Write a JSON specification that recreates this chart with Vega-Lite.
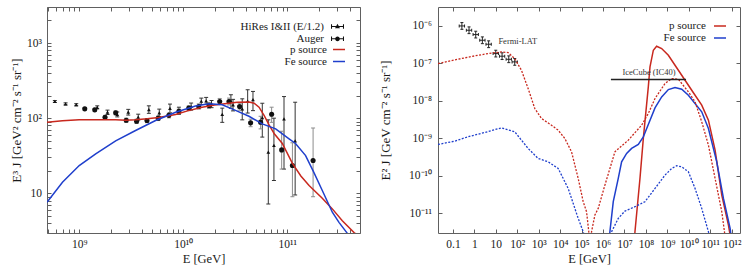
{
  "$schema": "https://vega.github.io/schema/vega-lite/v6.json",
  "padding": {"left": 10, "top": 0, "right": 8, "bottom": 7},
  "background": "white",
  "bounds": "flush",
  "spacing": 78,
  "resolve": {"scale": {"color": "independent", "shape": "independent", "size": "independent"}},
  "datasets": {
    "leftObs": [
      {"series": "HiRes I&II (E/1.2)", "E": 5.83e8, "J": 167, "lo": 162, "hi": 172},
      {"series": "HiRes I&II (E/1.2)", "E": 7.39e8, "J": 155, "lo": 150, "hi": 160},
      {"series": "HiRes I&II (E/1.2)", "E": 9.36e8, "J": 151, "lo": 146, "hi": 156},
      {"series": "HiRes I&II (E/1.2)", "E": 1.49e9, "J": 139, "lo": 133, "hi": 146},
      {"series": "HiRes I&II (E/1.2)", "E": 1.87e9, "J": 120, "lo": 112, "hi": 128},
      {"series": "HiRes I&II (E/1.2)", "E": 2.32e9, "J": 112, "lo": 104, "hi": 121},
      {"series": "HiRes I&II (E/1.2)", "E": 2.96e9, "J": 120, "lo": 110, "hi": 131},
      {"series": "HiRes I&II (E/1.2)", "E": 3.69e9, "J": 103, "lo": 94, "hi": 113},
      {"series": "HiRes I&II (E/1.2)", "E": 4.67e9, "J": 130, "lo": 116, "hi": 146},
      {"series": "HiRes I&II (E/1.2)", "E": 5.88e9, "J": 118, "lo": 105, "hi": 132},
      {"series": "HiRes I&II (E/1.2)", "E": 7.45e9, "J": 135, "lo": 118, "hi": 154},
      {"series": "HiRes I&II (E/1.2)", "E": 9.08e9, "J": 125, "lo": 112, "hi": 140},
      {"series": "HiRes I&II (E/1.2)", "E": 1.19e10, "J": 143, "lo": 128, "hi": 159},
      {"series": "HiRes I&II (E/1.2)", "E": 1.49e10, "J": 168, "lo": 152, "hi": 185},
      {"series": "HiRes I&II (E/1.2)", "E": 1.66e10, "J": 170, "lo": 153, "hi": 189},
      {"series": "HiRes I&II (E/1.2)", "E": 1.87e10, "J": 155, "lo": 138, "hi": 172},
      {"series": "HiRes I&II (E/1.2)", "E": 2.37e10, "J": 112, "lo": 88, "hi": 136},
      {"series": "HiRes I&II (E/1.2)", "E": 2.87e10, "J": 170, "lo": 135, "hi": 205},
      {"series": "HiRes I&II (E/1.2)", "E": 3.01e10, "J": 150, "lo": 125, "hi": 178},
      {"series": "HiRes I&II (E/1.2)", "E": 3.69e10, "J": 133, "lo": 95, "hi": 181},
      {"series": "HiRes I&II (E/1.2)", "E": 4.16e10, "J": 169, "lo": 117, "hi": 239},
      {"series": "HiRes I&II (E/1.2)", "E": 4.68e10, "J": 176, "lo": 126, "hi": 227},
      {"series": "HiRes I&II (E/1.2)", "E": 5.75e10, "J": 102, "lo": 56, "hi": 158},
      {"series": "HiRes I&II (E/1.2)", "E": 6.57e10, "J": 35.2, "lo": 7.2, "hi": 95},
      {"series": "HiRes I&II (E/1.2)", "E": 7.44e10, "J": 43.3, "lo": 14.8, "hi": 100},
      {"series": "HiRes I&II (E/1.2)", "E": 9.3e10, "J": 98, "lo": 21, "hi": 194},
      {"series": "HiRes I&II (E/1.2)", "E": 1.19e11, "J": 49.9, "lo": 9.5, "hi": 163},
      {"series": "Auger", "E": 1.13e9, "J": 133, "lo": 127, "hi": 139},
      {"series": "Auger", "E": 1.41e9, "J": 129, "lo": 123, "hi": 135},
      {"series": "Auger", "E": 1.77e9, "J": 103, "lo": 97, "hi": 109},
      {"series": "Auger", "E": 2.24e9, "J": 118, "lo": 111, "hi": 125},
      {"series": "Auger", "E": 2.83e9, "J": 94, "lo": 88, "hi": 100},
      {"series": "Auger", "E": 3.56e9, "J": 91, "lo": 85, "hi": 97},
      {"series": "Auger", "E": 4.48e9, "J": 93, "lo": 87, "hi": 99},
      {"series": "Auger", "E": 5.75e9, "J": 100, "lo": 93, "hi": 107},
      {"series": "Auger", "E": 7.28e9, "J": 109, "lo": 101, "hi": 117},
      {"series": "Auger", "E": 9.08e9, "J": 123, "lo": 114, "hi": 132},
      {"series": "Auger", "E": 1.13e10, "J": 136, "lo": 126, "hi": 146},
      {"series": "Auger", "E": 1.41e10, "J": 143, "lo": 132, "hi": 155},
      {"series": "Auger", "E": 1.77e10, "J": 148, "lo": 135, "hi": 162},
      {"series": "Auger", "E": 2.24e10, "J": 167, "lo": 152, "hi": 183},
      {"series": "Auger", "E": 2.75e10, "J": 167, "lo": 150, "hi": 185},
      {"series": "Auger", "E": 3.48e10, "J": 143, "lo": 128, "hi": 158},
      {"series": "Auger", "E": 4.44e10, "J": 86.7, "lo": 77, "hi": 97},
      {"series": "Auger", "E": 5.54e10, "J": 88.5, "lo": 72, "hi": 106},
      {"series": "Auger", "E": 7.07e10, "J": 113, "lo": 88, "hi": 140},
      {"series": "Auger", "E": 8.83e10, "J": 37.8, "lo": 21, "hi": 67},
      {"series": "Auger", "E": 1.12e11, "J": 23.4, "lo": 9, "hi": 47},
      {"series": "Auger", "E": 1.77e11, "J": 27.3, "lo": 9, "hi": 74}
    ],
    "leftModel": [
      {"series": "p source", "E": 4.9e8, "J": 88},
      {"series": "p source", "E": 6.9e8, "J": 92.5},
      {"series": "p source", "E": 1.0e9, "J": 95},
      {"series": "p source", "E": 1.44e9, "J": 95.5},
      {"series": "p source", "E": 2.24e9, "J": 95},
      {"series": "p source", "E": 2.8e9, "J": 94},
      {"series": "p source", "E": 3.48e9, "J": 95},
      {"series": "p source", "E": 4.5e9, "J": 98},
      {"series": "p source", "E": 5.8e9, "J": 102},
      {"series": "p source", "E": 8.44e9, "J": 112},
      {"series": "p source", "E": 1.1e10, "J": 125},
      {"series": "p source", "E": 1.52e10, "J": 140},
      {"series": "p source", "E": 2.0e10, "J": 150},
      {"series": "p source", "E": 2.75e10, "J": 158},
      {"series": "p source", "E": 3.3e10, "J": 163},
      {"series": "p source", "E": 4.3e10, "J": 164},
      {"series": "p source", "E": 4.8e10, "J": 158},
      {"series": "p source", "E": 5.35e10, "J": 140},
      {"series": "p source", "E": 6.0e10, "J": 108},
      {"series": "p source", "E": 6.66e10, "J": 82},
      {"series": "p source", "E": 7.5e10, "J": 62},
      {"series": "p source", "E": 8.96e10, "J": 46},
      {"series": "p source", "E": 1.12e11, "J": 25},
      {"series": "p source", "E": 1.35e11, "J": 17},
      {"series": "p source", "E": 1.62e11, "J": 12.7},
      {"series": "p source", "E": 2.17e11, "J": 8.6},
      {"series": "p source", "E": 2.71e11, "J": 6.2},
      {"series": "p source", "E": 3.38e11, "J": 4.3},
      {"series": "p source", "E": 4.38e11, "J": 3.0},
      {"series": "p source", "E": 5.2e11, "J": 2.5},
      {"series": "Fe source", "E": 4.9e8, "J": 7.6},
      {"series": "Fe source", "E": 6.9e8, "J": 14},
      {"series": "Fe source", "E": 1.0e9, "J": 23.4},
      {"series": "Fe source", "E": 1.44e9, "J": 33.4},
      {"series": "Fe source", "E": 2.24e9, "J": 50},
      {"series": "Fe source", "E": 3.48e9, "J": 68.5},
      {"series": "Fe source", "E": 5.42e9, "J": 93},
      {"series": "Fe source", "E": 8.44e9, "J": 120},
      {"series": "Fe source", "E": 1.31e10, "J": 145},
      {"series": "Fe source", "E": 1.77e10, "J": 155},
      {"series": "Fe source", "E": 2.37e10, "J": 151},
      {"series": "Fe source", "E": 3.18e10, "J": 127},
      {"series": "Fe source", "E": 4.28e10, "J": 106},
      {"series": "Fe source", "E": 5.75e10, "J": 84},
      {"series": "Fe source", "E": 7.73e10, "J": 72},
      {"series": "Fe source", "E": 1.04e11, "J": 53},
      {"series": "Fe source", "E": 1.2e11, "J": 46},
      {"series": "Fe source", "E": 1.5e11, "J": 31.8},
      {"series": "Fe source", "E": 1.8e11, "J": 19},
      {"series": "Fe source", "E": 2.17e11, "J": 10.9},
      {"series": "Fe source", "E": 2.71e11, "J": 5.6},
      {"series": "Fe source", "E": 3.14e11, "J": 4.1},
      {"series": "Fe source", "E": 3.78e11, "J": 2.93},
      {"series": "Fe source", "E": 4.2e11, "J": 2.4}
    ],
    "fermi": [
      {"E": 0.26, "J": 1.0e-6, "Elo": 0.195, "Ehi": 0.346, "Jlo": 8.13e-7, "Jhi": 1.23e-6},
      {"E": 0.56, "J": 7.67e-7, "Elo": 0.421, "Ehi": 0.745, "Jlo": 6.24e-7, "Jhi": 9.43e-7},
      {"E": 1.15, "J": 5.88e-7, "Elo": 0.865, "Ehi": 1.53, "Jlo": 4.78e-7, "Jhi": 7.23e-7},
      {"E": 2.35, "J": 4.15e-7, "Elo": 1.77, "Ehi": 3.13, "Jlo": 3.37e-7, "Jhi": 5.1e-7},
      {"E": 4.6, "J": 3.25e-7, "Elo": 3.46, "Ehi": 6.12, "Jlo": 2.64e-7, "Jhi": 4.0e-7},
      {"E": 9.9, "J": 1.83e-7, "Elo": 7.44, "Ehi": 13.2, "Jlo": 1.49e-7, "Jhi": 2.25e-7},
      {"E": 19.5, "J": 1.56e-7, "Elo": 14.7, "Ehi": 25.9, "Jlo": 1.27e-7, "Jhi": 1.92e-7},
      {"E": 40, "J": 1.29e-7, "Elo": 30.1, "Ehi": 53.2, "Jlo": 1.05e-7, "Jhi": 1.59e-7},
      {"E": 76, "J": 1.1e-7, "Elo": 57.1, "Ehi": 101, "Jlo": 8.94e-8, "Jhi": 1.35e-7}
    ],
    "gamma": [
      {"series": "p source", "seg": "pg", "E": 0.0199, "J": 9.91e-8},
      {"series": "p source", "seg": "pg", "E": 0.1714, "J": 1.294e-7},
      {"series": "p source", "seg": "pg", "E": 1.028, "J": 1.589e-7},
      {"series": "p source", "seg": "pg", "E": 4.325, "J": 1.832e-7},
      {"series": "p source", "seg": "pg", "E": 18.16, "J": 2.028e-7},
      {"series": "p source", "seg": "pg", "E": 37.15, "J": 1.95e-7},
      {"series": "p source", "seg": "pg", "E": 76.2, "J": 1.349e-7},
      {"series": "p source", "seg": "pg", "E": 156, "J": 6.59e-8},
      {"series": "p source", "seg": "pg", "E": 320, "J": 2.14e-8},
      {"series": "p source", "seg": "pg", "E": 655, "J": 6.28e-9},
      {"series": "p source", "seg": "pg", "E": 1343, "J": 3.4e-9},
      {"series": "p source", "seg": "pg", "E": 3936, "J": 2.25e-9},
      {"series": "p source", "seg": "pg", "E": 8072, "J": 1.66e-9},
      {"series": "p source", "seg": "pg", "E": 16520, "J": 9.95e-10},
      {"series": "p source", "seg": "pg", "E": 33880, "J": 4.4e-10},
      {"series": "p source", "seg": "pg", "E": 69340, "J": 8.55e-11},
      {"series": "p source", "seg": "pg", "E": 118900, "J": 2.05e-11},
      {"series": "p source", "seg": "pg", "E": 170200, "J": 1.107e-11},
      {"series": "p source", "seg": "pg", "E": 218800, "J": 3.05e-12},
      {"series": "p source", "seg": "pg", "E": 251200, "J": 1e-12},
      {"series": "p source", "seg": "pg", "E": 291100, "J": 3.25e-12},
      {"series": "p source", "seg": "pg", "E": 416900, "J": 9.04e-12},
      {"series": "p source", "seg": "pg", "E": 597000, "J": 1.36e-11},
      {"series": "p source", "seg": "pg", "E": 1.222e6, "J": 5.69e-11},
      {"series": "p source", "seg": "pg", "E": 3.589e6, "J": 4.4e-10},
      {"series": "p source", "seg": "pg", "E": 1.507e7, "J": 8.99e-10},
      {"series": "p source", "seg": "pg", "E": 6.32e7, "J": 2.25e-9},
      {"series": "p source", "seg": "pg", "E": 1.294e8, "J": 4.61e-9},
      {"series": "p source", "seg": "pg", "E": 2.655e8, "J": 1.159e-8},
      {"series": "p source", "seg": "pg", "E": 7.78e8, "J": 2.91e-8},
      {"series": "p source", "seg": "pg", "E": 1.592e9, "J": 3.95e-8},
      {"series": "p source", "seg": "pg", "E": 3.266e9, "J": 3.79e-8},
      {"series": "p source", "seg": "pg", "E": 9.57e9, "J": 1.746e-8},
      {"series": "p source", "seg": "pg", "E": 1.963e10, "J": 9.44e-9},
      {"series": "p source", "seg": "pg", "E": 4.018e10, "J": 2.77e-9},
      {"series": "p source", "seg": "pg", "E": 8.24e10, "J": 6.62e-10},
      {"series": "p source", "seg": "pg", "E": 1.687e11, "J": 8.57e-11},
      {"series": "p source", "seg": "pg", "E": 3.459e11, "J": 1.107e-11},
      {"series": "p source", "seg": "pg", "E": 4.61e11, "J": 3.25e-12},
      {"series": "p source", "seg": "pg", "E": 5.89e11, "J": 9.5e-13},
      {"series": "Fe source", "seg": "fg1", "E": 0.0199, "J": 6.89e-10},
      {"series": "Fe source", "seg": "fg1", "E": 0.1197, "J": 8.45e-10},
      {"series": "Fe source", "seg": "fg1", "E": 0.502, "J": 1.104e-9},
      {"series": "Fe source", "seg": "fg1", "E": 3.02, "J": 1.439e-9},
      {"series": "Fe source", "seg": "fg1", "E": 18.16, "J": 1.914e-9},
      {"series": "Fe source", "seg": "fg1", "E": 76.2, "J": 1.5e-9},
      {"series": "Fe source", "seg": "fg1", "E": 320, "J": 5.4e-10},
      {"series": "Fe source", "seg": "fg1", "E": 938, "J": 2.92e-10},
      {"series": "Fe source", "seg": "fg1", "E": 2748, "J": 2.38e-10},
      {"series": "Fe source", "seg": "fg1", "E": 8072, "J": 1.58e-10},
      {"series": "Fe source", "seg": "fg1", "E": 23660, "J": 4.63e-11},
      {"series": "Fe source", "seg": "fg1", "E": 69340, "J": 7.36e-12},
      {"series": "Fe source", "seg": "fg1", "E": 118900, "J": 3.25e-12},
      {"series": "Fe source", "seg": "fg1", "E": 170200, "J": 1.45e-12},
      {"series": "Fe source", "seg": "fg2", "E": 2.094e6, "J": 2.65e-12},
      {"series": "Fe source", "seg": "fg2", "E": 3.0e6, "J": 3.98e-12},
      {"series": "Fe source", "seg": "fg2", "E": 5.13e6, "J": 7.36e-12},
      {"series": "Fe source", "seg": "fg2", "E": 1.052e7, "J": 1.153e-11},
      {"series": "Fe source", "seg": "fg2", "E": 3.083e7, "J": 1.507e-11},
      {"series": "Fe source", "seg": "fg2", "E": 9.04e7, "J": 2.05e-11},
      {"series": "Fe source", "seg": "fg2", "E": 2.655e8, "J": 4.63e-11},
      {"series": "Fe source", "seg": "fg2", "E": 7.78e8, "J": 1.05e-10},
      {"series": "Fe source", "seg": "fg2", "E": 1.592e9, "J": 1.58e-10},
      {"series": "Fe source", "seg": "fg2", "E": 2.729e9, "J": 1.862e-10},
      {"series": "Fe source", "seg": "fg2", "E": 4.677e9, "J": 1.75e-10},
      {"series": "Fe source", "seg": "fg2", "E": 9.57e9, "J": 1.288e-10},
      {"series": "Fe source", "seg": "fg2", "E": 1.963e10, "J": 4.63e-11},
      {"series": "Fe source", "seg": "fg2", "E": 4.018e10, "J": 1.36e-11},
      {"series": "Fe source", "seg": "fg2", "E": 8.24e10, "J": 3.25e-12},
      {"series": "Fe source", "seg": "fg2", "E": 1.175e11, "J": 1.17e-12}
    ],
    "neutrino": [
      {"series": "p source", "E": 2.871e7, "J": 1.76e-12},
      {"series": "p source", "E": 3.083e7, "J": 3.25e-12},
      {"series": "p source", "E": 5.28e7, "J": 8.55e-11},
      {"series": "p source", "E": 7.57e7, "J": 9.95e-10},
      {"series": "p source", "E": 1.294e8, "J": 2.37e-8},
      {"series": "p source", "E": 1.55e8, "J": 8.09e-8},
      {"series": "p source", "E": 2.22e8, "J": 2.25e-7},
      {"series": "p source", "E": 3.16e8, "J": 2.87e-7},
      {"series": "p source", "E": 5.43e8, "J": 2.49e-7},
      {"series": "p source", "E": 1.114e9, "J": 1.65e-7},
      {"series": "p source", "E": 3.27e9, "J": 6.59e-8},
      {"series": "p source", "E": 1.371e10, "J": 1.93e-8},
      {"series": "p source", "E": 4.018e10, "J": 7.69e-9},
      {"series": "p source", "E": 8.24e10, "J": 3.07e-9},
      {"series": "p source", "E": 1.687e11, "J": 4.86e-10},
      {"series": "p source", "E": 3.459e11, "J": 3.08e-11},
      {"series": "p source", "E": 7.08e11, "J": 4.89e-12},
      {"series": "p source", "E": 9.55e11, "J": 1.76e-12},
      {"series": "Fe source", "E": 1.879e6, "J": 1.76e-12},
      {"series": "Fe source", "E": 2.094e6, "J": 3.25e-12},
      {"series": "Fe source", "E": 3.0e6, "J": 2.05e-11},
      {"series": "Fe source", "E": 5.13e6, "J": 8.57e-11},
      {"series": "Fe source", "E": 7.35e6, "J": 2.38e-10},
      {"series": "Fe source", "E": 1.26e7, "J": 3.97e-10},
      {"series": "Fe source", "E": 2.153e7, "J": 5.4e-10},
      {"series": "Fe source", "E": 4.42e7, "J": 6.89e-10},
      {"series": "Fe source", "E": 7.57e7, "J": 1.1e-9},
      {"series": "Fe source", "E": 1.294e8, "J": 2.35e-9},
      {"series": "Fe source", "E": 2.655e8, "J": 6.53e-9},
      {"series": "Fe source", "E": 5.43e8, "J": 1.28e-8},
      {"series": "Fe source", "E": 1.114e9, "J": 2.01e-8},
      {"series": "Fe source", "E": 2.28e9, "J": 2.28e-8},
      {"series": "Fe source", "E": 4.68e9, "J": 2.06e-8},
      {"series": "Fe source", "E": 9.57e9, "J": 1.422e-8},
      {"series": "Fe source", "E": 4.018e10, "J": 5.12e-9},
      {"series": "Fe source", "E": 8.24e10, "J": 1.84e-9},
      {"series": "Fe source", "E": 2.018e11, "J": 2.38e-10},
      {"series": "Fe source", "E": 4.14e11, "J": 2.51e-11},
      {"series": "Fe source", "E": 8.47e11, "J": 3.98e-12},
      {"series": "Fe source", "E": 1.014e12, "J": 1.76e-12}
    ],
    "icecube": [{"Elo": 2.33e6, "Ehi": 7.45e9, "J": 3.72e-8}],
    "notes": [
      {"label": "Fermi-LAT", "E": 105, "J": 3.98e-7},
      {"label": "IceCube (IC40)", "E": 1.39e8, "J": 5.94e-8}
    ]
  },
  "hconcat": [
    {
      "width": 313,
      "height": 226,
      "resolve": {"axis": {"x": "independent", "y": "independent"}, "scale": {"shape": "independent", "size": "independent"}},
      "layer": [
        {
          "data": {"name": "leftObs"},
          "mark": {"type": "rule", "strokeWidth": 1, "clip": true},
          "encoding": {
            "x": {"field": "E", "type": "quantitative", "scale": {"type": "log", "domain": [4.9e8, 5e11]},
              "axis": {"orient": "top", "labels": false, "title": null, "minExtent": 0, "values": [5e8,6e8,7e8,8e8,9e8,1e9,2e9,3e9,4e9,5e9,6e9,7e9,8e9,9e9,1e10,2e10,3e10,4e10,5e10,6e10,7e10,8e10,9e10,1e11,2e11,3e11,4e11]}},
            "y": {"field": "lo", "type": "quantitative", "scale": {"type": "log", "domain": [2.96, 3020]},
              "axis": {"orient": "right", "labels": false, "title": null, "minExtent": 0, "values": [3,4,5,6,7,8,9,10,20,30,40,50,60,70,80,90,100,200,300,400,500,600,700,800,900,1000,2000,3000]}},
            "y2": {"field": "hi"},
            "color": {"condition": {"test": "datum.series === 'Auger'", "value": "#8c8c8c"}, "value": "#333333"}
          }
        },
        {
          "data": {"name": "leftObs"},
          "transform": [{"fold": ["lo", "hi"], "as": ["bound", "val"]}],
          "mark": {"type": "tick", "orient": "horizontal", "size": 4, "thickness": 1, "opacity": 1, "clip": true},
          "encoding": {
            "x": {"field": "E", "type": "quantitative", "scale": {"type": "log", "domain": [4.9e8, 5e11]}, "axis": null},
            "y": {"field": "val", "type": "quantitative", "scale": {"type": "log", "domain": [2.96, 3020]}, "axis": null},
            "color": {"condition": {"test": "datum.series === 'Auger'", "value": "#8c8c8c"}, "value": "#333333"}
          }
        },
        {
          "data": {"name": "leftObs"},
          "mark": {"type": "point", "filled": true, "opacity": 1, "color": "#111111", "clip": true},
          "encoding": {
            "x": {"field": "E", "type": "quantitative", "scale": {"type": "log", "domain": [4.9e8, 5e11]},
              "axis": {"orient": "bottom", "title": "E [GeV]", "titlePadding": 3, "labelPadding": 9,
                "values": [5e8,6e8,7e8,8e8,9e8,1e9,2e9,3e9,4e9,5e9,6e9,7e9,8e9,9e9,1e10,2e10,3e10,4e10,5e10,6e10,7e10,8e10,9e10,1e11,2e11,3e11,4e11],
                "labelExpr": "datum.value == 1e9 ? '10⁹' : datum.value == 1e10 ? '10¹⁰' : datum.value == 1e11 ? '10¹¹' : ''"}},
            "y": {"field": "J", "type": "quantitative", "scale": {"type": "log", "domain": [2.96, 3020]},
              "axis": {"orient": "left", "title": "E³ J [GeV² cm⁻² s⁻¹ sr⁻¹]", "titlePadding": 3, "labelPadding": 9.5, "minExtent": 0, "titleFontSize": 13,
                "values": [3,4,5,6,7,8,9,10,20,30,40,50,60,70,80,90,100,200,300,400,500,600,700,800,900,1000,2000,3000],
                "labelExpr": "datum.value == 10 ? '10' : datum.value == 100 ? '10²' : datum.value == 1000 ? '10³' : ''"}},
            "shape": {"field": "series", "type": "nominal", "legend": null,
              "scale": {"domain": ["HiRes I&II (E/1.2)", "Auger"], "range": ["triangle-up", "circle"]}},
            "size": {"field": "series", "type": "nominal", "legend": null,
              "scale": {"domain": ["HiRes I&II (E/1.2)", "Auger"], "range": [14, 26]}}
          }
        },
        {
          "data": {"name": "leftObs"},
          "mark": {"type": "point", "filled": true, "opacity": 0, "color": "#111111"},
          "encoding": {
            "x": {"field": "E", "type": "quantitative", "scale": {"type": "log", "domain": [4.9e8, 5e11]}, "axis": null},
            "y": {"field": "J", "type": "quantitative", "scale": {"type": "log", "domain": [2.96, 3020]}, "axis": null},
            "shape": {"field": "series", "type": "nominal",
              "scale": {"domain": ["HiRes I&II (E/1.2)", "Auger"],
                "range": ["M-1,-0.08H1V0.08H-1Z M-1,-0.35H-0.84V0.35H-1Z M0.84,-0.35H1V0.35H0.84Z M0,-0.42L0.38,0.25H-0.38Z",
                          "M-1,-0.08H1V0.08H-1Z M-1,-0.35H-0.84V0.35H-1Z M0.84,-0.35H1V0.35H0.84Z M0.36,0A0.36,0.36 0 1,1 -0.36,0A0.36,0.36 0 1,1 0.36,0Z"]},
              "legend": {"orient": "none", "legendX": 284, "legendY": 13, "labelAlign": "right", "labelOffset": -20,
                "symbolSize": 169, "symbolOpacity": 1, "symbolFillColor": "#111111", "symbolStrokeWidth": 0, "rowPadding": 0.3}}
          }
        },
        {
          "data": {"name": "leftModel"},
          "mark": {"type": "line", "strokeWidth": 1.5, "clip": true},
          "encoding": {
            "x": {"field": "E", "type": "quantitative", "scale": {"type": "log", "domain": [4.9e8, 5e11]}, "axis": null},
            "y": {"field": "J", "type": "quantitative", "scale": {"type": "log", "domain": [2.96, 3020]}, "axis": null},
            "color": {"field": "series", "type": "nominal",
              "scale": {"domain": ["p source", "Fe source"], "range": ["#c8281e", "#1f3fcc"]},
              "legend": {"orient": "none", "legendX": 285, "legendY": 35.5, "labelAlign": "right", "labelOffset": -19,
                "symbolType": "stroke", "symbolStrokeWidth": 1.5, "symbolSize": 144, "rowPadding": 0}}
          }
        }
      ]
    },
    {
      "width": 302,
      "height": 226,
      "resolve": {"axis": {"x": "independent", "y": "independent"}},
      "layer": [
        {
          "data": {"name": "fermi"},
          "mark": {"type": "rule", "strokeWidth": 1, "color": "#222222", "clip": true},
          "encoding": {
            "x": {"field": "E", "type": "quantitative", "scale": {"type": "log", "domain": [0.02, 2.45e12]},
              "axis": {"orient": "bottom", "title": "E [GeV]", "titlePadding": 3, "labelPadding": 9,
                "values": [0.1,1,10,100,1000,1e4,1e5,1e6,1e7,1e8,1e9,1e10,1e11,1e12],
                "labelExpr": "['0.1','1','10','10²','10³','10⁴','10⁵','10⁶','10⁷','10⁸','10⁹','10¹⁰','10¹¹','10¹²'][round(log(datum.value)/LN10)+1]"}},
            "y": {"field": "Jlo", "type": "quantitative", "scale": {"type": "log", "domain": [3e-12, 3.2e-6]},
              "axis": {"orient": "left", "title": "E² J [GeV cm⁻² s⁻¹ sr⁻¹]", "titlePadding": 16, "labelPadding": 10.5, "minExtent": 0, "titleFontSize": 13,
                "values": [1e-11,1e-10,1e-9,1e-8,1e-7,1e-6],
                "labelExpr": "['10⁻¹¹','10⁻¹⁰','10⁻⁹','10⁻⁸','10⁻⁷','10⁻⁶'][round(log(datum.value)/LN10)+11]"}},
            "y2": {"field": "Jhi"}
          }
        },
        {
          "data": {"name": "fermi"},
          "mark": {"type": "rule", "strokeWidth": 1, "color": "#222222", "clip": true},
          "encoding": {
            "x": {"field": "Elo", "type": "quantitative", "scale": {"type": "log", "domain": [0.02, 2.45e12]},
              "axis": {"orient": "top", "labels": false, "title": null, "minExtent": 0, "values": [0.1,1,10,100,1000,1e4,1e5,1e6,1e7,1e8,1e9,1e10,1e11,1e12]}},
            "x2": {"field": "Ehi"},
            "y": {"field": "J", "type": "quantitative", "scale": {"type": "log", "domain": [3e-12, 3.2e-6]},
              "axis": {"orient": "right", "labels": false, "title": null, "minExtent": 0, "values": [1e-11,1e-10,1e-9,1e-8,1e-7,1e-6]}}
          }
        },
        {
          "data": {"name": "fermi"},
          "transform": [{"fold": ["Jlo", "Jhi"], "as": ["bound", "val"]}],
          "mark": {"type": "tick", "orient": "horizontal", "size": 3, "thickness": 1, "opacity": 1, "color": "#222222", "clip": true},
          "encoding": {
            "x": {"field": "E", "type": "quantitative", "scale": {"type": "log", "domain": [0.02, 2.45e12]}, "axis": null},
            "y": {"field": "val", "type": "quantitative", "scale": {"type": "log", "domain": [3e-12, 3.2e-6]}, "axis": null}
          }
        },
        {
          "data": {"name": "fermi"},
          "transform": [{"fold": ["Elo", "Ehi"], "as": ["bound", "val"]}],
          "mark": {"type": "tick", "orient": "vertical", "size": 3, "thickness": 1, "opacity": 1, "color": "#222222", "clip": true},
          "encoding": {
            "x": {"field": "val", "type": "quantitative", "scale": {"type": "log", "domain": [0.02, 2.45e12]}, "axis": null},
            "y": {"field": "J", "type": "quantitative", "scale": {"type": "log", "domain": [3e-12, 3.2e-6]}, "axis": null}
          }
        },
        {
          "data": {"name": "neutrino"},
          "mark": {"type": "line", "strokeWidth": 1.5, "clip": true},
          "encoding": {
            "x": {"field": "E", "type": "quantitative", "scale": {"type": "log", "domain": [0.02, 2.45e12]}, "axis": null},
            "y": {"field": "J", "type": "quantitative", "scale": {"type": "log", "domain": [3e-12, 3.2e-6]}, "axis": null},
            "color": {"field": "series", "type": "nominal",
              "scale": {"domain": ["p source", "Fe source"], "range": ["#c8281e", "#1f3fcc"]},
              "legend": {"orient": "none", "legendX": 275, "legendY": 12, "labelAlign": "right", "labelOffset": -21,
                "symbolType": "stroke", "symbolStrokeWidth": 1.5, "symbolSize": 144, "rowPadding": 0}}
          }
        },
        {
          "data": {"name": "gamma"},
          "mark": {"type": "line", "strokeWidth": 1.3, "strokeDash": [2, 1.5], "clip": true},
          "encoding": {
            "x": {"field": "E", "type": "quantitative", "scale": {"type": "log", "domain": [0.02, 2.45e12]}, "axis": null},
            "y": {"field": "J", "type": "quantitative", "scale": {"type": "log", "domain": [3e-12, 3.2e-6]}, "axis": null},
            "detail": {"field": "seg"},
            "color": {"field": "series", "type": "nominal",
              "scale": {"domain": ["p source", "Fe source"], "range": ["#c8281e", "#1f3fcc"]}, "legend": null}
          }
        },
        {
          "data": {"name": "icecube"},
          "mark": {"type": "rule", "strokeWidth": 1.5, "color": "#222222", "clip": true},
          "encoding": {
            "x": {"field": "Elo", "type": "quantitative", "scale": {"type": "log", "domain": [0.02, 2.45e12]}, "axis": null},
            "x2": {"field": "Ehi"},
            "y": {"field": "J", "type": "quantitative", "scale": {"type": "log", "domain": [3e-12, 3.2e-6]}, "axis": null}
          }
        },
        {
          "data": {"name": "notes"},
          "mark": {"type": "text", "font": "Liberation Serif", "fontSize": 8.5, "color": "#333333", "baseline": "middle"},
          "encoding": {
            "x": {"field": "E", "type": "quantitative", "scale": {"type": "log", "domain": [0.02, 2.45e12]}, "axis": null},
            "y": {"field": "J", "type": "quantitative", "scale": {"type": "log", "domain": [3e-12, 3.2e-6]}, "axis": null},
            "text": {"field": "label"}
          }
        }
      ]
    }
  ],
  "config": {
    "view": {"stroke": "#606060", "strokeWidth": 1},
    "font": "Liberation Serif",
    "axis": {
      "labelFont": "Liberation Serif", "titleFont": "Liberation Serif",
      "labelFontSize": 11.5, "titleFontSize": 12.5, "titleFontWeight": "normal",
      "labelColor": "#1a1a1a", "titleColor": "#1a1a1a",
      "tickColor": "#606060", "tickSize": -4, "tickWidth": 1,
      "domain": false, "grid": false, "minExtent": 0,
      "labelFlush": false, "labelOverlap": false, "labelBound": false
    },
    "axisY": {"minExtent": 0},
    "legend": {
      "title": null, "padding": 0,
      "labelFont": "Liberation Serif", "labelFontSize": 11, "labelColor": "#1a1a1a"
    }
  }
}
